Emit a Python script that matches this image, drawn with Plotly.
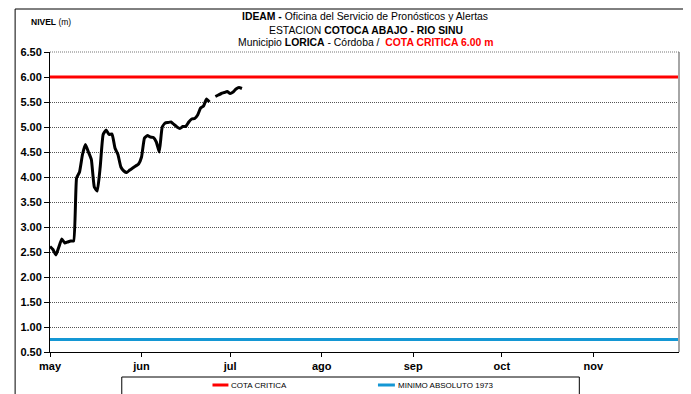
import pandas as pd
import plotly.graph_objects as go

# ---------------- data ----------------
start_date = "2011-05-01"
nivel = [2.61, 2.55, 2.44, 2.60, 2.76, 2.68, 2.70, 2.72, 2.72, 3.98,
         4.10, 4.45, 4.65, 4.50, 4.35, 3.80, 3.72, 4.20, 4.85, 4.94,
         4.85, 4.86, 4.58, 4.45, 4.20, 4.12, 4.09, 4.14, 4.18, 4.22,
         4.26, 4.40, 4.78, 4.83, 4.80, 4.79, 4.70, 4.50, 5.00, 5.08,
         5.09, 5.10, 5.05, 5.00, 4.97, 5.01, 5.01, 5.10, 5.16, 5.17,
         5.24, 5.38, 5.42, 5.56, 5.50, None, 5.61, 5.64, 5.67, 5.69,
         5.71, 5.67, 5.70, 5.76, 5.79, 5.77]
fechas = pd.date_range(start_date, periods=len(nivel), freq="D")

x_range = ["2011-05-01", "2011-11-30"]
month_ticks = ["2011-05-01", "2011-06-01", "2011-07-01", "2011-08-01",
               "2011-09-01", "2011-10-01", "2011-11-01"]
month_labels = ["may", "jun", "jul", "ago", "sep", "oct", "nov"]

cota_critica = 6.00
minimo_absoluto_1973 = 0.75
y_range = [0.5, 6.5]
y_step = 0.5

RED = "#FF0000"
BLUE = "#1497D4"
FONT = "Liberation Sans, Arial, sans-serif"
NARROW = "Liberation Sans Narrow, Arial Narrow, Liberation Sans, sans-serif"

fig = go.Figure()
fig.add_trace(go.Scatter(x=x_range, y=[cota_critica, cota_critica], mode="lines",
                         name="COTA CRITICA", line=dict(color=RED, width=3)))
fig.add_trace(go.Scatter(x=x_range, y=[minimo_absoluto_1973, minimo_absoluto_1973],
                         mode="lines", name="MINIMO ABSOLUTO 1973",
                         line=dict(color=BLUE, width=3)))
fig.add_trace(go.Scatter(x=fechas, y=nivel, mode="lines", name="NIVEL",
                         connectgaps=False,
                         line=dict(color="black", width=3, shape="spline", smoothing=0.4)))

# page body has an 8px margin: figure is 683x386 placed at (8, 8)
fig.update_layout(
    width=683, height=386,
    margin=dict(l=40, r=12, t=44, b=42),
    paper_bgcolor="white", plot_bgcolor="white",
    showlegend=False,
    font=dict(family=FONT, color="black"),
    xaxis=dict(type="date", range=x_range, tickvals=month_ticks, ticktext=month_labels,
               showgrid=False, zeroline=False, showline=True, linecolor="black",
               linewidth=1, ticks="outside", ticklen=4, tickcolor="black",
               tickfont=dict(family=FONT, size=11, color="black", weight="bold")),
    yaxis=dict(range=y_range, dtick=y_step, tick0=0.5, tickformat=".2f",
               showgrid=True, gridcolor="#555555", griddash="1px,1px", gridwidth=1,
               zeroline=False, showline=True, linecolor="black", linewidth=1,
               ticks="outside", ticklen=5, tickcolor="black",
               tickfont=dict(family=FONT, size=11, color="black", weight="bold")),
)

shapes = [
    # outer frame
    dict(type="rect", xref="paper", yref="paper", x0=-35 / 631, x1=638 / 631,
         y0=-48 / 300, y1=343 / 300, line=dict(color="black", width=1), layer="below"),
    # plot area right/top borders
    dict(type="line", xref="paper", yref="paper", x0=1, x1=1, y0=0, y1=1,
         line=dict(color="#A6A6A6", width=2)),
    dict(type="line", xref="paper", yref="paper", x0=0, x1=1, y0=1, y1=1,
         line=dict(color="#777777", width=1, dash="1px,1px")),
    # legend box
    dict(type="rect", xref="paper", yref="paper", x0=(120 - 48) / 631, x1=(579 - 48) / 631,
         y0=-60 / 300, y1=(352 - 377) / 300, line=dict(color="black", width=1)),
    # legend samples
    dict(type="line", xref="paper", yref="paper", x0=(211 - 48) / 631, x1=(227 - 48) / 631,
         y0=(352 - 385) / 300, y1=(352 - 385) / 300, line=dict(color=RED, width=3)),
    dict(type="line", xref="paper", yref="paper", x0=(377 - 48) / 631, x1=(394 - 48) / 631,
         y0=(352 - 385) / 300, y1=(352 - 385) / 300, line=dict(color=BLUE, width=3)),
]
fig.update_layout(shapes=shapes)

def ann(text, px, py, size, family=FONT, xanchor="center"):
    fig.add_annotation(text=text, xref="paper", yref="paper",
                       x=(px - 48) / 631, y=(352 - py) / 300,
                       xanchor=xanchor, yanchor="middle", showarrow=False,
                       font=dict(family=family, size=size, color="black"))

ann("<b>IDEAM -</b> Oficina del Servicio de Pronósticos y Alertas", 364, 17, 10.4, NARROW)
ann("ESTACION <b>COTOCA ABAJO - RIO SINU</b>", 365, 30, 10.4, NARROW)
ann("Municipio <b>LORICA</b> - Córdoba /  <b><span style='color:#FF0000'>COTA CRITICA 6.00 m</span></b>",
    365, 43, 10.4, NARROW)
ann("<b>NIVEL</b> (m)", 27, 22, 8.5, NARROW, xanchor="left")
ann("COTA CRITICA", 228, 385, 8, NARROW, xanchor="left")
ann("MINIMO ABSOLUTO 1973", 395, 385, 8, NARROW, xanchor="left")

fig.write_html("out.html")
